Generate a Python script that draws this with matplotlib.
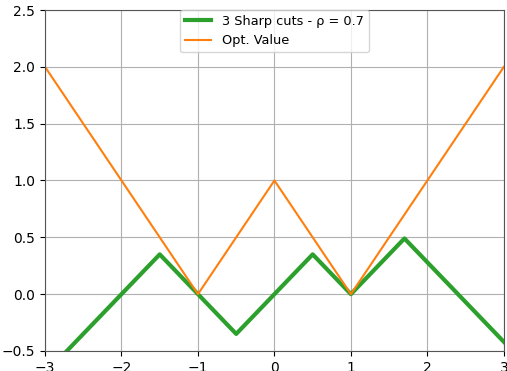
import numpy as np
import matplotlib.pyplot as plt

# breakpoints of the piecewise-linear curves
x_cuts = [-3, -1.5, -1, -0.5, 0, 0.5, 1, 1.7, 3]
y_cuts = [-0.7, 0.35, 0, -0.35, 0, 0.35, 0, 0.49, -0.42]

x_opt = [-3, -1, 0, 1, 3]
y_opt = [2, 0, 1, 0, 2]

fig = plt.figure(figsize=(5.07, 3.71), dpi=100)
ax = fig.add_axes([0.0888, 0.054, 0.905, 0.919])

ax.plot(x_cuts, y_cuts, color='tab:green', linewidth=3, label='3 Sharp cuts - ρ = 0.7')
ax.plot(x_opt, y_opt, color='tab:orange', linewidth=1.5, label='Opt. Value')

ax.set_xlim(-3, 3)
ax.set_ylim(-0.5, 2.5)
ax.grid(True, color='#b0b0b0', linewidth=0.8)
ax.set_axisbelow(True)
for s in ax.spines.values():
    s.set_color('#555555')
ax.tick_params(colors='black', labelsize=10)
ax.legend(loc='upper center', bbox_to_anchor=(0.5, 1.02), fontsize=9.3, framealpha=0.8)

fig.savefig('out.png', dpi=100)
